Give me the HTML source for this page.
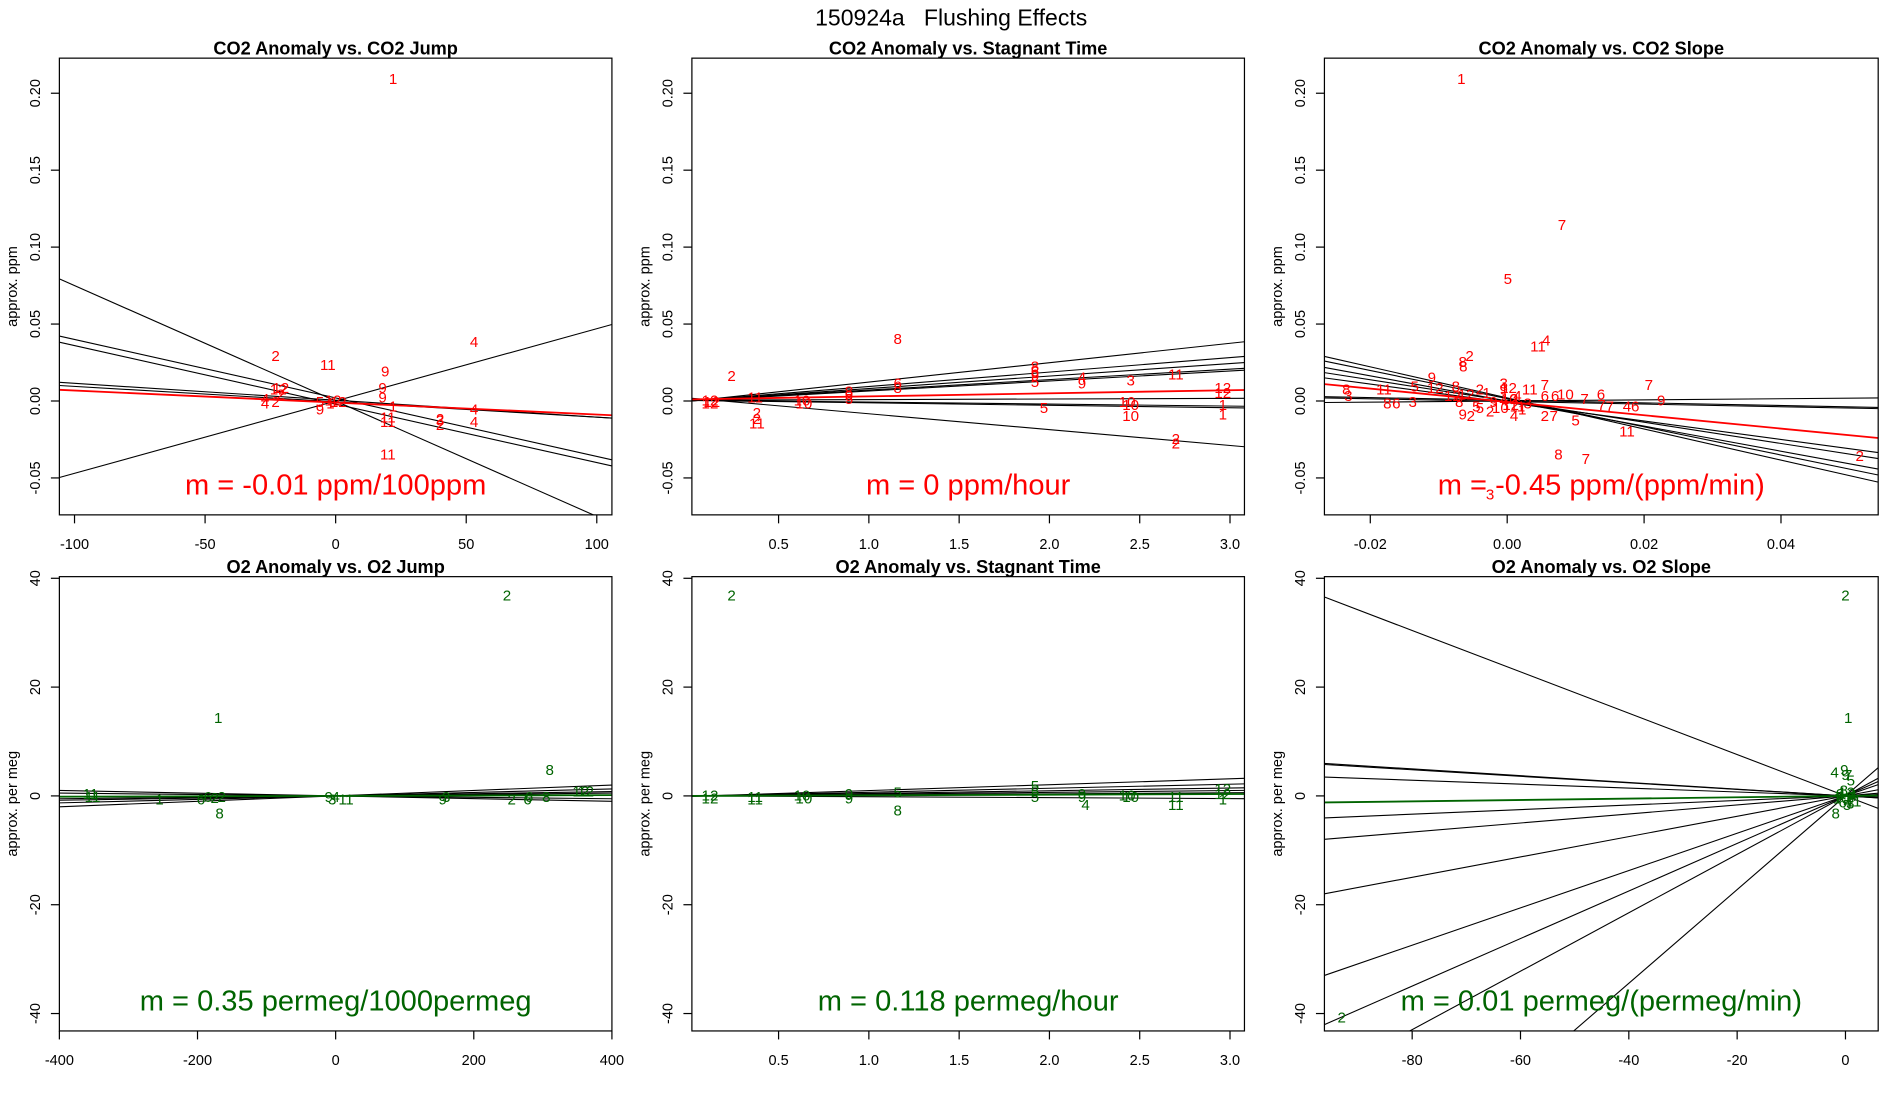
<!DOCTYPE html>
<html><head><meta charset="utf-8"><style>
html,body{margin:0;padding:0;background:#fff;width:1900px;height:1100px;overflow:hidden;}
svg{display:block;font-family:"Liberation Sans",Arial,sans-serif;}
</style></head><body>
<svg id="chart" xmlns="http://www.w3.org/2000/svg" width="1900" height="1100" viewBox="0 0 1568 908" preserveAspectRatio="none">
<rect x="0" y="0" width="1568" height="908" fill="#fff"/>
<text x="785" y="21" font-size="19" text-anchor="middle">150924a&#160;&#160;&#160;Flushing Effects</text>
</svg>
<script>
// ---------- DATA ----------
// Panel 1: CO2 anomaly vs CO2 jump
const p1Labels = ["1","2","11","9","4","12","12","4","4","2","2","9","5","12","12","1","9","9","1","11","11","2","2","3","4","4","11"];
const p1X = [22,-23,-3,19,53,-22,-21,-27,-27,-23,-21,-6,-6,-1,1,-2,18,18,22,20,20,40,40,40,53,53,20];
const p1Y = [0.21,0.030,0.024,0.020,0.039,0.008,0.009,0.002,-0.001,0.000,0.005,-0.005,0.000,0.001,0.000,-0.001,0.009,0.003,-0.003,-0.010,-0.013,-0.011,-0.015,-0.012,-0.005,-0.013,-0.034];
const p1LineSlope = [-0.00075,-0.00038,-0.00038,0.00047,-0.00011,-0.0001];
const p1LineInt = [0.0,0.002,-0.002,0.0,0.0005,-0.0005];
const p1FitSlope = [-0.000078];
const p1FitInt = [-0.001];
// Panel 2: CO2 anomaly vs stagnant time
const p2Labels = ["12","12","12","2","11","2","2","11","10","10","8","9","8","5","6","8","8","6","9","5","5","4","9","3","10","10","10","11","2","2","12","12","1","1"];
const p2X = [0.12,0.12,0.13,0.24,0.37,0.38,0.38,0.38,0.63,0.64,1.16,0.89,0.89,0.89,1.16,1.16,1.92,1.92,1.92,1.92,1.97,2.18,2.18,2.45,2.43,2.45,2.45,2.7,2.7,2.7,2.96,2.96,2.96,2.96];
const p2Y = [0.001,-0.001,0.000,0.017,0.003,-0.007,-0.011,-0.014,0.001,-0.001,0.041,0.004,0.007,0.002,0.012,0.009,0.023,0.020,0.017,0.013,-0.004,0.016,0.012,0.014,0.000,-0.002,-0.009,0.018,-0.024,-0.027,0.009,0.006,-0.002,-0.008];
const p2LineSlope = [0.0126,0.0094,0.0081,0.0068,0.0065,0.0004,-0.0013,-0.0016,-0.0103];
const p2LineInt = [-0.0003,0.0,0.0,0.0003,0.0,0.0005,0.0006,0.0004,0.002];
const p2FitSlope = [0.002];
const p2FitInt = [0.001];
// Panel 3: CO2 anomaly vs CO2 slope
const p3Labels = ["1","7","5","4","11","2","8","8","9","5","12","11","8","3","8","6","3","7","6","9","10","7","7","7","4","6","11","5","2","7","8","7","2","3","9","2","4","8","2","12","3","12","11","7","1","4","2","9","10","5","6","12","3","11","8","9","1","2","10","4","6","5","12"];
const p3X = [-0.0067,0.008,0.0001,0.0057,0.0045,-0.0055,-0.0065,-0.0064,-0.011,-0.0135,-0.0105,-0.018,-0.0235,-0.0232,-0.0175,-0.0162,-0.0138,0.0207,0.0137,0.0225,0.0085,0.0113,0.0138,0.015,0.0175,0.0187,0.0175,0.01,0.0055,0.0068,0.0075,0.0115,0.0515,-0.0025,-0.0065,-0.0053,0.001,-0.0075,-0.004,-0.008,-0.0005,0.0002,0.0033,0.0055,-0.003,0.0015,0.001,-0.002,-0.001,-0.004,0.007,-0.006,0.003,0.0015,-0.007,-0.0005,0.0022,-0.0025,0.0003,-0.0005,0.0055,-0.0045,0.0005];
const p3Y = [0.21,0.115,0.080,0.040,0.036,0.030,0.026,0.023,0.016,0.010,0.009,0.008,0.008,0.004,-0.001,-0.001,0.000,0.011,0.005,0.001,0.005,0.002,-0.002,-0.003,-0.003,-0.003,-0.019,-0.012,-0.009,-0.009,-0.034,-0.037,-0.035,-0.060,-0.008,-0.009,-0.009,0.010,0.008,0.004,0.012,0.009,0.008,0.011,0.006,0.004,0.002,0.000,-0.004,-0.004,0.004,0.005,-0.001,-0.003,0.000,0.008,-0.005,-0.006,0.002,0.001,0.004,-0.003,-0.002];
const p3LineSlope = [-1.01,-0.915,-0.816,-0.69,-0.6,-0.086,-0.086,0.037];
const p3LineInt = [0.002,0.0015,0.0,0.0,-0.001,0.0005,-0.0003,0.0];
const p3FitSlope = [-0.433];
const p3FitInt = [-0.0006];
// Panel 4: O2 anomaly vs O2 jump
const p4Labels = ["2","1","8","12","12","11","11","1","6","6","2","2","8","9","3","4","1","1","3","9","2","6","6","8"];
const p4X = [248,-170,310,355,362,-355,-352,-255,-195,-185,-175,-165,-168,-10,-5,0,10,20,160,155,255,280,278,305];
const p4Y = [37,14.5,5,1,1,0.5,0,-0.5,-0.5,0,-0.2,0,-3,0,-0.5,0,-0.5,-0.5,0,-0.5,-0.5,0,-0.5,0];
const p4LineSlope = [0.005,0.0032,0.002,0.0013,-0.0013,-0.0025];
const p4LineInt = [0,0,0,0,0,0];
const p4FitSlope = [0.00035];
const p4FitInt = [0];
// Panel 5: O2 anomaly vs stagnant time
const p5Labels = ["2","12","12","11","11","10","10","9","9","5","8","5","5","5","9","9","4","10","10","11","11","12","12","1"];
const p5X = [0.24,0.12,0.12,0.37,0.37,0.63,0.64,0.89,0.89,1.16,1.16,1.92,1.92,1.92,2.18,2.18,2.2,2.43,2.45,2.7,2.7,2.96,2.96,2.96];
const p5Y = [37,0.3,-0.3,0,-0.5,0.3,-0.3,0.5,-0.3,0.8,-2.5,2,1,0,0.5,0,-1.5,0.3,0,0,-1.5,1.5,0.5,-0.5];
const p5LineSlope = [1.08,0.74,0.5,0.34,0.2,-0.17];
const p5LineInt = [-0.1,-0.07,-0.05,-0.03,-0.02,0.02];
const p5FitSlope = [0.118];
const p5FitInt = [-0.01];
// Panel 6: O2 anomaly vs O2 slope
const p6Labels = ["2","1","2","4","9","9","5","7","8","9","1","3","6","2","11","10","12","4","7","5","3","8"];
const p6X = [0,0.5,-93,-2,-0.2,0,1,0.5,-1.8,-1,0.5,1.2,-0.5,0.8,1.5,-0.8,0.2,1.4,-1.2,0.3,0.9,-0.3];
const p6Y = [37,14.5,-40.5,4.5,5,4,3,4,-3,0.5,-0.5,0.5,-1,0,-0.8,-0.3,0.8,0.2,0,-1.5,-1.2,1.2];
const p6LineSlope = [-0.38,-0.062,-0.06,-0.036,0.042,0.083,0.187,0.343,0.437,0.537,0.861];
const p6LineInt = [0,0,0,0,0,0,0,0,0,0,0];
const p6FitSlope = [0.0125];
const p6FitInt = [0];
// Tick values
const ticksCO2Y = [-0.05,0,0.05,0.10,0.15,0.20];
const ticksCO2YLabels = ["-0.05","0.00","0.05","0.10","0.15","0.20"];
const ticksO2Y = [-40,-20,0,20,40];
const ticksO2YLabels = ["-40","-20","0","20","40"];
const ticksJumpCO2 = [-100,-50,0,50,100];
const ticksJumpCO2Labels = ["-100","-50","0","50","100"];
const ticksTime = [0.5,1.0,1.5,2.0,2.5,3.0];
const ticksTimeLabels = ["0.5","1.0","1.5","2.0","2.5","3.0"];
const ticksSlopeCO2 = [-0.02,0,0.02,0.04];
const ticksSlopeCO2Labels = ["-0.02","0.00","0.02","0.04"];
const ticksJumpO2 = [-400,-200,0,200,400];
const ticksJumpO2Labels = ["-400","-200","0","200","400"];
const ticksSlopeO2 = [-80,-60,-40,-20,0];
const ticksSlopeO2Labels = ["-80","-60","-40","-20","0"];

// ---------- DRAWING ----------
const NS = "http://www.w3.org/2000/svg";
const svg = document.getElementById("chart");
function mk(tag, attrs, parent){
  const e = document.createElementNS(NS, tag);
  for (const k in attrs) e.setAttribute(k, attrs[k]);
  (parent||svg).appendChild(e);
  return e;
}
const RED = "#ff0000", GREEN = "#006400";
const panels = [
  {id:"co2-jump", title:"CO2 Anomaly vs. CO2 Jump", box:[49,48,505,425], xl:[-105.8,105.8], yl:[0.2228,-0.074], xt:ticksJumpCO2, xtl:ticksJumpCO2Labels, yt:ticksCO2Y, ytl:ticksCO2YLabels, ylab:"approx. ppm", L:p1Labels, X:p1X, Y:p1Y, ls:p1LineSlope, li:p1LineInt, fs:p1FitSlope, fi:p1FitInt, col:RED, ann:"m = -0.01 ppm/100ppm"},
  {id:"co2-time", title:"CO2 Anomaly vs. Stagnant Time", box:[571,48,1027,425], xl:[0.02,3.08], yl:[0.2228,-0.074], xt:ticksTime, xtl:ticksTimeLabels, yt:ticksCO2Y, ytl:ticksCO2YLabels, ylab:"approx. ppm", L:p2Labels, X:p2X, Y:p2Y, ls:p2LineSlope, li:p2LineInt, fs:p2FitSlope, fi:p2FitInt, col:RED, ann:"m = 0 ppm/hour"},
  {id:"co2-slope", title:"CO2 Anomaly vs. CO2 Slope", box:[1093,48,1550,425], xl:[-0.0267,0.0542], yl:[0.2228,-0.074], xt:ticksSlopeCO2, xtl:ticksSlopeCO2Labels, yt:ticksCO2Y, ytl:ticksCO2YLabels, ylab:"approx. ppm", L:p3Labels, X:p3X, Y:p3Y, ls:p3LineSlope, li:p3LineInt, fs:p3FitSlope, fi:p3FitInt, col:RED, ann:"m = -0.45 ppm/(ppm/min)"},
  {id:"o2-jump", title:"O2 Anomaly vs. O2 Jump", box:[49,476,505,851], xl:[-400,400], yl:[40.3,-43.2], xt:ticksJumpO2, xtl:ticksJumpO2Labels, yt:ticksO2Y, ytl:ticksO2YLabels, ylab:"approx. per meg", L:p4Labels, X:p4X, Y:p4Y, ls:p4LineSlope, li:p4LineInt, fs:p4FitSlope, fi:p4FitInt, col:GREEN, ann:"m = 0.35 permeg/1000permeg"},
  {id:"o2-time", title:"O2 Anomaly vs. Stagnant Time", box:[571,476,1027,851], xl:[0.02,3.08], yl:[40.3,-43.2], xt:ticksTime, xtl:ticksTimeLabels, yt:ticksO2Y, ytl:ticksO2YLabels, ylab:"approx. per meg", L:p5Labels, X:p5X, Y:p5Y, ls:p5LineSlope, li:p5LineInt, fs:p5FitSlope, fi:p5FitInt, col:GREEN, ann:"m = 0.118 permeg/hour"},
  {id:"o2-slope", title:"O2 Anomaly vs. O2 Slope", box:[1093,476,1550,851], xl:[-96.2,6.04], yl:[40.3,-43.2], xt:ticksSlopeO2, xtl:ticksSlopeO2Labels, yt:ticksO2Y, ytl:ticksO2YLabels, ylab:"approx. per meg", L:p6Labels, X:p6X, Y:p6Y, ls:p6LineSlope, li:p6LineInt, fs:p6FitSlope, fi:p6FitInt, col:GREEN, ann:"m = 0.01 permeg/(permeg/min)"}
];
panels.forEach((p, idx) => {
  const [x0,y0,x1,y1] = p.box;
  const sx = v => x0 + (v - p.xl[0]) / (p.xl[1] - p.xl[0]) * (x1 - x0);
  const sy = v => y0 + (v - p.yl[0]) / (p.yl[1] - p.yl[0]) * (y1 - y0);
  const g = mk("g", {});
  
  
  const cp = mk("clipPath", {id:"clip"+idx}, g);
  mk("rect", {x:x0, y:y0, width:x1-x0, height:y1-y0}, cp);
  const t = mk("text", {x:(x0+x1)/2, y:y0-3, "font-size":15, "font-weight":"bold", "text-anchor":"middle"}, g);
  t.textContent = p.title;
  
  
  const ya = mk("g", {}, g);
  
  
  p.yt.forEach((v, i) => {
    const y = sy(v);
    mk("line", {x1:x0, x2:x0-7, y1:y, y2:y, stroke:"#000", "stroke-width":1}, ya);
    const tl = mk("text", {x:0, y:0, "font-size":12, "text-anchor":"middle", transform:`translate(${x0-16},${y}) rotate(-90)`}, ya);
    tl.textContent = p.ytl[i];
    
    
  });
  const yt = mk("text", {x:0, y:0, "font-size":12, "text-anchor":"middle", transform:`translate(${x0-35},${(y0+y1)/2}) rotate(-90)`}, g);
  yt.textContent = p.ylab;
  
  
  const xa = mk("g", {}, g);
  
  
  p.xt.forEach((v, i) => {
    const x = sx(v);
    mk("line", {x1:x, x2:x, y1:y1, y2:y1+7, stroke:"#000", "stroke-width":1}, xa);
    const tl = mk("text", {x:x, y:y1+28, "font-size":12, "text-anchor":"middle"}, xa);
    tl.textContent = p.xtl[i];
    
    
  });
  const lg = mk("g", {"clip-path":`url(#clip${idx})`}, g);
  p.ls.forEach((m, i) => {
    const b = p.li[i];
    const ln = mk("line", {x1:sx(p.xl[0]), y1:sy(b + m*p.xl[0]), x2:sx(p.xl[1]), y2:sy(b + m*p.xl[1]), stroke:"#000", "stroke-width":0.9}, lg);
    
    
  });
  p.fs.forEach((m, i) => {
    const b = p.fi[i];
    const ln = mk("line", {x1:sx(p.xl[0]), y1:sy(b + m*p.xl[0]), x2:sx(p.xl[1]), y2:sy(b + m*p.xl[1]), stroke:p.col, "stroke-width":1.5}, lg);
    
    
  });
  const pg = mk("g", {"clip-path":`url(#clip${idx})`}, g);
  p.L.forEach((lab, i) => {
    const tx = mk("text", {x:sx(p.X[i]), y:sy(p.Y[i]) + 5, "font-size":12.5, fill:p.col, "text-anchor":"middle"}, pg);
    tx.textContent = lab;
    
    
  });
  const an = mk("text", {x:(x0+x1)/2, y:y1-17, "font-size":24, fill:p.col, "text-anchor":"middle"}, g);
  an.textContent = p.ann;
  
  
  const fr = mk("rect", {x:x0, y:y0, width:x1-x0, height:y1-y0, fill:"none", stroke:"#000", "stroke-width":1}, g);
  
  
});
</script>
</body></html>
